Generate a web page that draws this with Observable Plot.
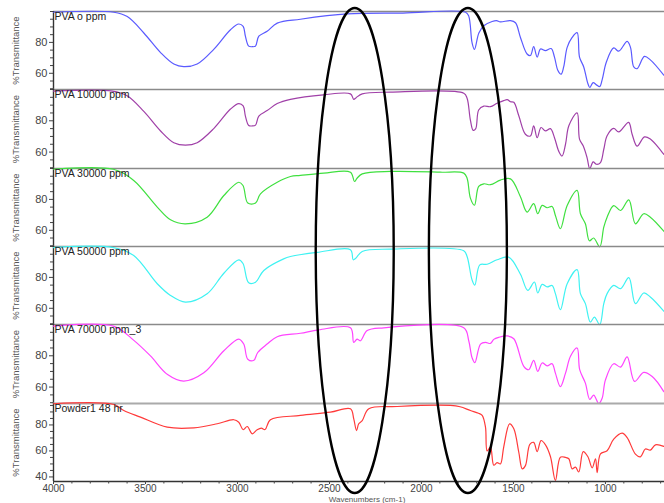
<!DOCTYPE html>
<html><head><meta charset="utf-8">
<script src="https://cdn.jsdelivr.net/npm/d3@7"></script>
<script src="https://cdn.jsdelivr.net/npm/@observablehq/plot@0.6"></script>
<style>
body{margin:0;background:#fff;font-family:"Liberation Sans",Arial,sans-serif;}
#chart{position:relative;width:664px;height:503px;overflow:hidden;background:#fff;}
#chart > div{position:absolute;left:0;}
</style></head><body><div id="chart"></div>
<script>
// [wavenumber cm-1, %Transmittance]
const pva0 = [[4000,99.5],[3672,99.5],[3599,96.7],[3509,86.1],[3418,73.4],[3346,66],[3292,64.3],[3219,66],[3129,75.5],[3038,88.2],[2993,91.9],[2969,90.3],[2957,84],[2939,77.6],[2920,77.2],[2902,77.6],[2884,84],[2839,87.2],[2784,92.5],[2658,95],[2404,98.4],[2100,99],[1760,99.5],[1743,97],[1725,79.8],[1712,75.5],[1688,86.1],[1661,90.8],[1616,93.5],[1592,94.1],[1571,93.3],[1516,94.1],[1489,92.7],[1462,83.2],[1426,72.5],[1408,71.5],[1390,77.2],[1371,70.5],[1353,75.7],[1326,74.7],[1295,76.0],[1277,70.5],[1259,62.0],[1241,59.4],[1227,64.1],[1208,76.8],[1181,83.2],[1154,86.3],[1141,70.5],[1118,64.1],[1096,53.5],[1085,50.8],[1067,54.0],[1049,52.5],[1031,51.4],[1018,55.7],[995,67.3],[955,76.4],[928,74.3],[882,80.6],[864,76.8],[846,64.1],[828,63.0],[788,70.9],[756,68.7],[683,58.8]];
const pva10000 = [[4000,99],[3680,99],[3600,96],[3509,86],[3418,73.5],[3346,66],[3283,64.4],[3219,66],[3129,75],[3038,87.5],[2993,91],[2969,89.5],[2957,83],[2939,77],[2920,76.7],[2902,77.2],[2884,83],[2839,86.5],[2784,91],[2712,93.7],[2533,96.6],[2386,97.2],[2368,93.7],[2355,94.8],[2322,97.2],[2168,98.3],[1770,97.6],[1752,94.4],[1734,80.4],[1719,73.9],[1705,75],[1689,86.9],[1661,89.4],[1625,89],[1589,91.2],[1553,92.9],[1534,93.5],[1516,92.2],[1498,91.8],[1471,83.2],[1435,71.4],[1408,70.3],[1390,76.8],[1371,69.2],[1350,75.7],[1326,73.5],[1299,75],[1277,69.2],[1254,60.6],[1236,57.5],[1217,65],[1199,76.8],[1154,85.1],[1141,68.3],[1121,64],[1100,56.5],[1085,49.4],[1067,53.7],[1049,52.2],[1027,53.3],[1009,61.8],[991,70.4],[955,75.1],[928,72.9],[874,79],[855,71.4],[828,63.8],[788,69.7],[756,68.3],[683,58.6]];
const pva30000 = [[4000,99.5],[3674,99.5],[3564,92.2],[3436,75],[3364,66.8],[3283,64.2],[3165,68.5],[3074,82.5],[2993,91.1],[2970,89],[2944,77.6],[2902,77.6],[2875,83.6],[2784,91.1],[2712,94.8],[2658,95.5],[2531,97],[2386,97.6],[2364,91.6],[2350,93.7],[2322,96.5],[2168,98.1],[1897,97.6],[1770,97],[1752,93.7],[1734,80.8],[1712,76.2],[1689,88.4],[1661,90.1],[1625,89.5],[1571,92.5],[1516,93.3],[1462,81.7],[1426,71.8],[1390,77.2],[1368,70.7],[1344,76.1],[1317,74.6],[1290,75.4],[1272,69.6],[1245,61],[1208,76],[1154,85.8],[1136,70.7],[1109,64.2],[1087,53.2],[1064,55],[1031,49.3],[1009,62],[991,68.5],[955,76],[918,72.8],[873,79.7],[837,64.2],[792,70.7],[756,68.5],[679,58.9]];
const pva50000 = [[4000,99.3],[3674,99.3],[3564,94.2],[3436,75.9],[3364,68.3],[3283,64],[3165,69.4],[3074,82.7],[2993,91.4],[2970,89],[2939,76.5],[2902,76.9],[2857,84.5],[2749,92],[2712,93.5],[2567,96.2],[2386,97.9],[2371,91.4],[2357,92.4],[2322,96.8],[2168,98.3],[1770,97.2],[1752,93.5],[1725,78.4],[1710,75],[1683,88.1],[1643,88.5],[1589,91.4],[1526,93.1],[1462,82],[1422,71.6],[1386,77],[1368,69.9],[1344,75.5],[1317,73.8],[1290,74.8],[1272,69.5],[1245,59.1],[1208,75.9],[1154,85],[1136,69.5],[1109,63],[1082,51.1],[1060,54.3],[1031,49.4],[1009,63],[991,69.5],[955,74.8],[918,72.7],[873,79.8],[837,63],[792,69.9],[756,67.3],[679,57.6]];
const pva70000 = [[4000,99],[3674,99],[3565,90],[3473,79.9],[3380,68],[3292,63.8],[3183,69.1],[3074,83.2],[2993,90.7],[2966,87.5],[2944,77.8],[2911,77.1],[2890,82.1],[2839,87.5],[2784,92.2],[2658,94.4],[2558,96.6],[2386,97.9],[2368,88.6],[2350,90.7],[2332,89.6],[2295,96.1],[2205,97.9],[1770,97.9],[1743,89.6],[1725,78.8],[1710,75.6],[1679,87.5],[1652,88.6],[1625,87.9],[1607,90.5],[1580,91.8],[1534,92.7],[1498,90.9],[1444,73.3],[1417,71.1],[1390,77.1],[1368,70],[1344,75.4],[1317,73.6],[1290,74.9],[1272,68.9],[1245,60.3],[1217,68.9],[1190,79.7],[1154,85],[1140,71.1],[1109,62.5],[1085,52.1],[1064,54.9],[1036,49.5],[1018,52.8],[1000,64.6],[955,74.9],[918,72.8],[882,79.3],[842,63.6],[792,69.4],[746,66.8],[683,57.1]];
const powder48 = [[4000,96.3],[3672,95.7],[3618,91.1],[3527,86],[3382,78.3],[3237,77.8],[3110,80.9],[3020,84],[2993,82.1],[2969,76.3],[2947,78.8],[2920,73.2],[2893,76.3],[2870,77.5],[2850,76.5],[2821,84],[2658,87.3],[2495,89.8],[2386,92.4],[2368,84.7],[2353,75.7],[2341,80.9],[2322,83.4],[2286,92.4],[2132,94.2],[1842,95],[1790,94],[1734,91.1],[1690,89],[1670,87.3],[1652,78.3],[1643,60],[1625,62.9],[1607,49],[1589,51],[1571,50],[1553,63],[1521,80.8],[1498,77],[1471,59],[1452,46.2],[1435,48.7],[1411,65],[1390,66.6],[1371,59.5],[1350,68],[1326,64.7],[1299,55.7],[1272,37.3],[1245,55.2],[1217,55],[1199,54],[1181,46.2],[1163,47.5],[1145,43.8],[1121,59.5],[1096,55.7],[1072,47],[1054,54],[1045,43.4],[1027,57.8],[991,60.2],[955,69.1],[909,73.7],[882,70.3],[837,57.6],[810,55.5],[783,61.5],[756,60.6],[728,64.7],[683,63.5]];

const sampleSeries = [pva0, pva10000, pva30000, pva50000, pva70000, powder48];
const sampleLabels = ["PVA o ppm", "PVA 10000 ppm", "PVA 30000 ppm", "PVA 50000 ppm", "PVA 70000 ppm_3", "Powder1 48 hr"];
const sampleColors = ["#5a5aff", "#a040a8", "#3fe03f", "#3ff2f2", "#ff44ff", "#ff3a3a"];
const yMajorTicks = [[60, 80], [60, 80], [60, 80], [60, 80], [60, 80], [40, 60, 80]];
const yDomains = [[49.5, 100], [49.5, 100], [49.5, 100], [49.5, 100], [49.5, 100], [36.5, 96.5]];
const xMajorTicks = [4000, 3500, 3000, 2500, 2000, 1500, 1000];
const xMinorTicks = d3.range(700, 4000, 100).filter(v => !xMajorTicks.includes(v));
const xTitle = "Wavenumbers (cm-1)";
const yTitle = "%Transmittance";
const highlightCenters = [2360, 1745];
const highlightHalfWidth = 212;

const panelTops = [11, 89, 168, 246, 324, 403];
const panelBottom = 481;
const chartEl = document.getElementById("chart");
let lastPlot;

sampleSeries.forEach((series, i) => {
  const isLast = i === sampleSeries.length - 1;
  const yDom = yDomains[i];
  const major = yMajorTicks[i];
  const minor = d3.range(Math.ceil(yDom[0] / 5) * 5, yDom[1] + 0.01, 5).filter(v => !major.includes(v));
  const innerH = (isLast ? panelBottom : panelTops[i + 1]) - panelTops[i];
  const marks = [
    Plot.ruleY([yDom[1]], {stroke: isLast ? "#aaa" : "#8a8a8a", strokeWidth: isLast ? 2 : 1.3}),
    Plot.axisY({ticks: minor, tickSize: 3, tickFormat: () => "", label: null, strokeWidth: 1}),
    Plot.axisY({ticks: major, tickSize: 4, tickPadding: 2, label: null, fontSize: 11}),
    Plot.ruleX([4000], {stroke: "#333", strokeWidth: 1.4}),
    Plot.line(series, {x: d => d[0], y: d => d[1], stroke: sampleColors[i], strokeWidth: 1.2, curve: "catmull-rom"}),
    Plot.text([sampleLabels[i]], {frameAnchor: "top-left", dx: 1, dy: 1, fontSize: 10.5, fill: "#222"}),
    Plot.text([yTitle], {frameAnchor: "left", dx: -38, rotate: -90, textAnchor: "middle", fontSize: 9.5, fill: "#555"})
  ];
  if (isLast) {
    marks.push(
      Plot.ruleY([yDom[0]], {stroke: "#333", strokeWidth: 1.4}),
      Plot.axisX({ticks: xMinorTicks, tickSize: 2.5, tickFormat: () => "", label: null}),
      Plot.axisX({ticks: xMajorTicks, tickSize: 3, tickPadding: 0, fontSize: 10, tickFormat: d => String(d), label: null}),
      Plot.text([xTitle], {frameAnchor: "bottom", dx: 8, dy: 20.2, lineAnchor: "bottom", fontSize: 8, fill: "#555"})
    );
  }
  const plot = Plot.plot({
    width: 664,
    height: innerH + (isLast ? 32 : 0),
    marginLeft: 53, marginRight: 0, marginTop: 0, marginBottom: isLast ? 32 : 0,
    x: {domain: [4000, 679], axis: isLast ? undefined : null},
    y: {domain: yDom},
    style: {overflow: "visible", color: "#444", fontFamily: "Liberation Sans, Arial, sans-serif", background: "transparent"},
    marks
  });
  const holder = document.createElement("div");
  holder.style.top = panelTops[i] + "px";
  holder.appendChild(plot);
  chartEl.appendChild(holder);
  if (isLast) lastPlot = plot;
});

// highlight ellipses (annotation over all panels)
const sx = lastPlot.scale("x");
const ellTop = panelTops[0] - 3, ellBottom = panelBottom + 12;
const overlay = d3.select("#chart").append("svg")
  .attr("width", 664).attr("height", 503)
  .style("position", "absolute").style("left", "0px").style("top", "0px")
  .style("pointer-events", "none");
overlay.selectAll("ellipse").data(highlightCenters).join("ellipse")
  .attr("cx", d => sx.apply(d))
  .attr("cy", (ellTop + ellBottom) / 2)
  .attr("rx", d => Math.abs(sx.apply(d - highlightHalfWidth) - sx.apply(d)))
  .attr("ry", (ellBottom - ellTop) / 2)
  .attr("fill", "none").attr("stroke", "#000").attr("stroke-width", 2.4);
</script></body></html>
